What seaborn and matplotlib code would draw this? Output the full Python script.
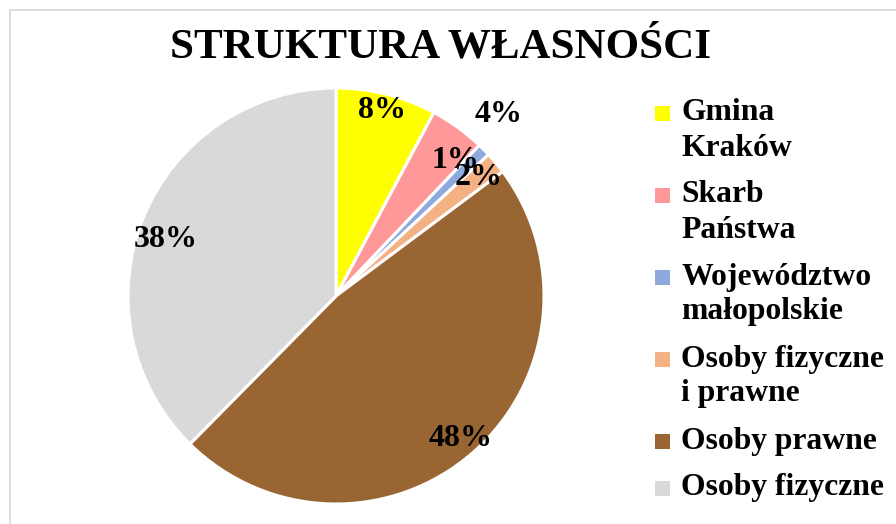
import matplotlib as mpl

mpl.use('Agg')
import matplotlib.pyplot as plt
from matplotlib.patches import Rectangle
from matplotlib.lines import Line2D
import numpy as np
import seaborn as sns

sns.set_theme(style='white')
plt.rcParams['font.family'] = ['Liberation Serif', 'DejaVu Serif']
plt.rcParams['text.color'] = 'black'

#### Data ####
categories = ['Gmina\nKraków', 'Skarb\nPaństwa', 'Województwo\nmałopolskie',
              'Osoby fizyczne\ni prawne', 'Osoby prawne', 'Osoby fizyczne']
shares = [7.8, 4.3, 1.0, 1.7, 47.6, 37.6]
colors = ['#FFFF00', '#FF9999', '#8EA9DB', '#F4B183', '#996633', '#D9D9D9']
title = 'STRUKTURA WŁASNOŚCI'

# label placement: (radius factor, angle shift in degrees)
label_pos = [(0.92, 0), (1.17, -6), (0.87, 4), (0.89, 0), (0.91, 0), (0.86, 4)]

W, H = 896, 524
fig = plt.figure(figsize=(W / 100, H / 100), dpi=100)
ax = fig.add_axes([128 / W, 20 / H, 416 / W, 416 / H])

wedges, texts, autotexts = ax.pie(shares, colors=colors, startangle=90,
                                  counterclock=False, autopct='%.0f%%',
                                  wedgeprops=dict(edgecolor='white', linewidth=2.2),
                                  textprops=dict(fontsize=23, fontweight='bold',
                                                 color='black'))
ax.set_xlim(-1, 1)
ax.set_ylim(-1, 1)
ax.set_aspect('equal')

for w, t, (rf, dth) in zip(wedges, autotexts, label_pos):
    ang = np.deg2rad((w.theta1 + w.theta2) / 2 + dth)
    t.set_position((rf * np.cos(ang), rf * np.sin(ang)))
    t.set_ha('center')
    t.set_va('center')

# title
fig.text(441 / W, 1 - 47 / H, title, ha='center', va='center',
         fontsize=31, fontweight='bold', color='black')

# legend (multi-line entries, square next to first line)
y = 113
for lab, col in zip(categories, colors):
    lines = lab.split('\n')
    fig.add_artist(Rectangle((655 / W, 1 - (y + 7.5) / H), 15 / W, 15 / H,
                             transform=fig.transFigure, color=col, lw=0))
    for i, line in enumerate(lines):
        fig.text(681 / W, 1 - (y + 35 * i) / H, line, ha='left', va='center',
                 fontsize=22.8, fontweight='bold', color='black')
    y += 35 * len(lines) + 12

# chart area border
fig.add_artist(Line2D([10 / W, 1], [1 - 10 / H, 1 - 10 / H],
                      transform=fig.transFigure, color='#D9D9D9', lw=1.3))
fig.add_artist(Line2D([10 / W, 10 / W], [0, 1 - 10 / H],
                      transform=fig.transFigure, color='#D9D9D9', lw=1.3))

plt.savefig('out.png', dpi=100)
